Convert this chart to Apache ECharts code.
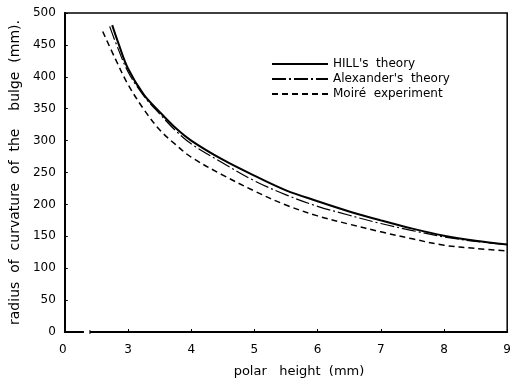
<!DOCTYPE html>
<html>
<head>
<meta charset="utf-8">
<script src="https://cdn.jsdelivr.net/npm/echarts@6/dist/echarts.min.js"></script>
<style>
  html, body { margin: 0; padding: 0; background: #fff; }
  #chart { width: 514px; height: 384px; }
</style>
</head>
<body>
<div id="chart"></div>
<script>
// polar height (mm) vs radius of curvature (mm)
const hillData = [
  [2.75, 481], [2.85, 452], [3.0, 413], [3.25, 372], [3.5, 345], [3.75, 320],
  [4.0, 300], [4.5, 270], [5.0, 245], [5.5, 222], [6.0, 205], [6.5, 189],
  [7.0, 175], [7.5, 162], [8.0, 151], [8.5, 143], [9.0, 137]
];
const alexanderData = [
  [2.71, 479], [2.8, 455], [3.0, 408], [3.25, 370], [3.5, 342], [3.75, 316],
  [4.0, 295], [4.5, 265], [5.0, 237], [5.5, 215], [6.0, 197], [6.5, 183],
  [7.0, 170], [7.5, 159], [8.0, 149], [8.5, 142], [9.0, 137]
];
const moireData = [
  [2.6, 471], [2.8, 428], [3.0, 388], [3.25, 349], [3.5, 317], [3.75, 294],
  [4.0, 274], [4.5, 246], [5.0, 221], [5.5, 199], [6.0, 182], [6.5, 169],
  [7.0, 157], [7.5, 146], [8.0, 136], [8.5, 131], [9.0, 127]
];
const seriesNames = ["HILL's  theory", "Alexander's  theory", "Moiré  experiment"];

const font = "DejaVu Sans";
const chart = echarts.init(document.getElementById("chart"));

const lineSeries = (name, data, width, dash) => ({
  name,
  type: "line",
  data,
  smooth: 0.35,
  symbol: "none",
  lineStyle: { color: "#000", width, type: dash },
  itemStyle: { color: "#000" },
});

chart.setOption({
  animation: false,
  backgroundColor: "#fff",
  textStyle: { fontFamily: font, color: "#000" },
  grid: {
    show: true, left: 61, right: 2, top: 13, bottom: 52,
    borderColor: "#000", borderWidth: 1.5, backgroundColor: "transparent",
  },
  legend: {
    orient: "vertical",
    left: 266, top: 53,
    itemWidth: 56, itemHeight: 12, itemGap: 3,
    itemStyle: { opacity: 0 },
    textStyle: { fontFamily: font, fontSize: 12, color: "#000" },
    data: seriesNames,
  },
  xAxis: {
    type: "value",
    min: 2, max: 9, interval: 1,
    name: "polar   height  (mm)",
    nameLocation: "middle",
    nameGap: 33,
    nameTextStyle: { fontSize: 13, color: "#000", padding: [0, 0, 0, 26] },
    axisLine: { lineStyle: { color: "#000", width: 2 } },
    axisTick: { inside: true, length: 3, lineStyle: { color: "#000" } },
    axisLabel: {
      color: "#000", fontSize: 12, margin: 12,
      formatter: (v) => (v === 2 ? "0 " : String(v)),
    },
    splitLine: { show: false },
  },
  yAxis: {
    type: "value",
    min: 0, max: 500, interval: 50,
    name: "radius  of  curvature  of  the    bulge  (mm).",
    nameLocation: "middle",
    nameGap: 41,
    nameRotate: 90,
    nameTextStyle: { fontSize: 14, color: "#000" },
    axisLine: { show: true, lineStyle: { color: "#000", width: 2 } },
    axisTick: { show: true, inside: true, length: 3, lineStyle: { color: "#000" } },
    axisLabel: { color: "#000", fontSize: 12, margin: 9 },
    splitLine: { show: false },
  },
  series: [
    lineSeries(seriesNames[0], hillData, 2, "solid"),
    lineSeries(seriesNames[1], alexanderData, 1.2, [14, 3, 2, 3]),
    lineSeries(seriesNames[2], moireData, 1.5, [6, 4]),
  ],
});

// small break in the x axis line just right of the origin
const bx = chart.convertToPixel({ xAxisIndex: 0 }, 2.35);
const by = chart.convertToPixel({ yAxisIndex: 0 }, 0);
chart.setOption({
  graphic: [
    { type: "rect", shape: { x: bx - 3, y: by - 3, width: 6, height: 6 }, style: { fill: "#fff" }, z: 100 },
    { type: "line", shape: { x1: bx + 3, y1: by - 2, x2: bx + 3, y2: by + 2 }, style: { stroke: "#000", lineWidth: 1 }, z: 101 },
  ],
});
</script>
</body>
</html>
